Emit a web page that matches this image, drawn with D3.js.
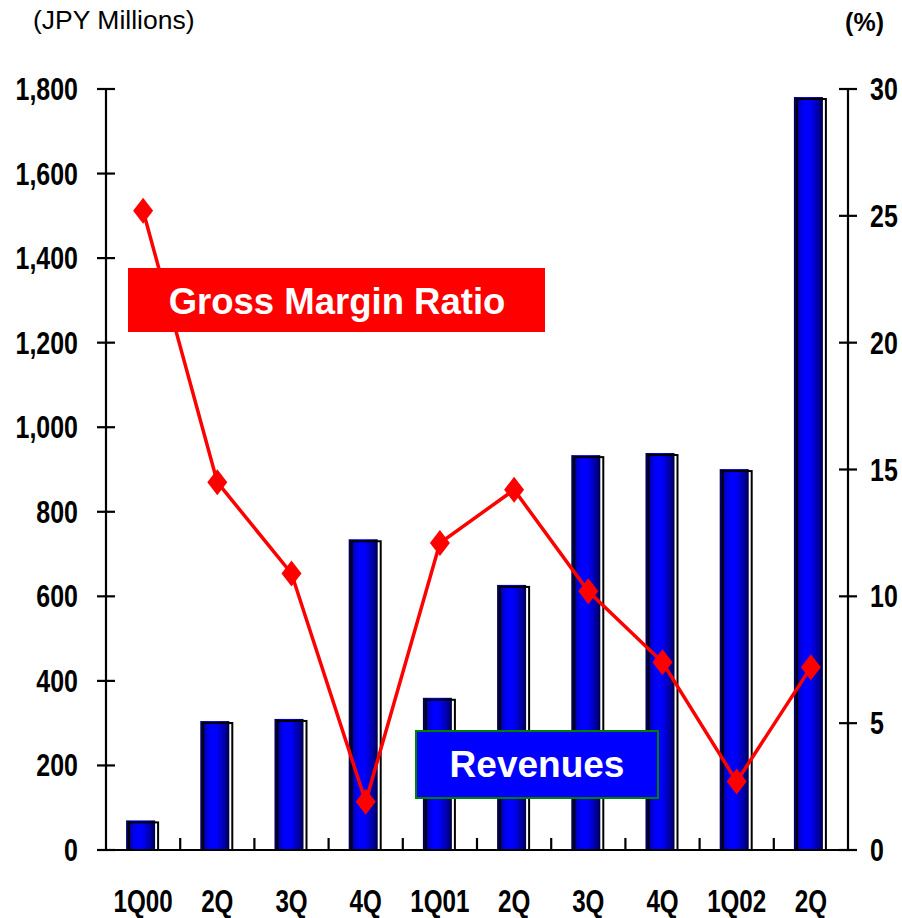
<!DOCTYPE html>
<html><head><meta charset="utf-8">
<script src="https://cdn.jsdelivr.net/npm/d3@7"></script>
<style>body{margin:0;background:#fff}svg{display:block}</style>
</head><body>
<script>
const categories = ["1Q00","2Q","3Q","4Q","1Q01","2Q","3Q","4Q","1Q02","2Q"];
const revenues = [70, 305, 310, 735, 360, 627, 934, 939, 901, 1781];
const grossMargin = [25.2, 14.5, 10.9, 1.9, 12.1, 14.2, 10.2, 7.4, 2.7, 7.2];
const leftTicks = [0,200,400,600,800,1000,1200,1400,1600,1800];
const rightTicks = [0,5,10,15,20,25,30];

const W = 902, H = 918;
const svg = d3.select("body").append("svg").attr("width", W).attr("height", H);
const x0 = 106, x1 = 848, yTop = 89, yBot = 850;

const x = d3.scaleBand().domain(d3.range(categories.length)).range([x0, x1]).padding(0);
const yL = d3.scaleLinear().domain([0, 1800]).range([yBot, yTop]);
const yR = d3.scaleLinear().domain([0, 30]).range([yBot, yTop]);

const defs = svg.append("defs");
const g = defs.append("linearGradient").attr("id","barGrad").attr("x1","0").attr("x2","1").attr("y1","0").attr("y2","0");
[["0%","#000040"],["12%","#0000b0"],["35%","#0000ff"],["55%","#0000ff"],["85%","#0000a0"],["100%","#000040"]]
  .forEach(([o,c]) => g.append("stop").attr("offset",o).attr("stop-color",c));

const font = "'Liberation Sans', Arial, Helvetica, sans-serif";
const cx = i => x(i) + x.bandwidth()/2;
const bw = 29;

// bars
const bars = svg.append("g");
revenues.forEach((v,i) => {
  const left = cx(i) - 17;
  bars.append("rect").attr("x", left).attr("y", yL(v)).attr("width", bw).attr("height", yBot - yL(v))
    .attr("fill","url(#barGrad)");
  bars.append("rect").attr("x", left + 3).attr("y", yL(v) + 2).attr("width", bw).attr("height", yBot - yL(v) - 2)
    .attr("fill","none").attr("stroke","#000").attr("stroke-width",2);
});

// axes
const axG = svg.append("g").attr("stroke","#000").attr("stroke-width",2.2);
axG.append("line").attr("x1",x0).attr("x2",x0).attr("y1",yTop).attr("y2",yBot);
axG.append("line").attr("x1",x1).attr("x2",x1).attr("y1",yTop).attr("y2",yBot);
axG.append("line").attr("x1",x0-9).attr("x2",x1+9).attr("y1",yBot).attr("y2",yBot);
leftTicks.forEach(t => axG.append("line").attr("x1",x0-9).attr("x2",x0+9).attr("y1",yL(t)).attr("y2",yL(t)));
rightTicks.forEach(t => axG.append("line").attr("x1",x1-9).attr("x2",x1+9).attr("y1",yR(t)).attr("y2",yR(t)));
d3.range(1, categories.length).forEach(i => axG.append("line").attr("x1",x(i)).attr("x2",x(i)).attr("y1",yBot-12).attr("y2",yBot));

// tick labels (condensed bold)
const sx = 0.78;
leftTicks.forEach(t => {
  svg.append("text").attr("transform",`translate(78,${yL(t)+11}) scale(${sx},1)`)
    .attr("text-anchor","end").attr("font-family",font).attr("font-weight","bold").attr("font-size",32)
    .text(d3.format(",")(t));
});
rightTicks.forEach(t => {
  svg.append("text").attr("transform",`translate(870,${yR(t)+11}) scale(${sx},1)`)
    .attr("text-anchor","start").attr("font-family",font).attr("font-weight","bold").attr("font-size",32)
    .text(t);
});
categories.forEach((c,i) => {
  svg.append("text").attr("transform",`translate(${cx(i)},912) scale(${sx},1)`)
    .attr("text-anchor","middle").attr("font-family",font).attr("font-weight","bold").attr("font-size",31)
    .text(c);
});

svg.append("text").attr("x",33).attr("y",29).attr("font-family",font).attr("font-size",26.5).text("(JPY Millions)");
svg.append("text").attr("x",884).attr("y",31).attr("text-anchor","end").attr("font-family",font).attr("font-weight","bold").attr("font-size",25).text("(%)");

// line
const line = d3.line().x((d,i) => cx(i)).y(d => yR(d));
svg.append("path").datum(grossMargin).attr("d", line).attr("fill","none").attr("stroke","#ff0000").attr("stroke-width",3.5);
grossMargin.forEach((v,i) => {
  const px = cx(i), py = yR(v);
  svg.append("path").attr("d",`M${px},${py-13}L${px+10},${py}L${px},${py+13}L${px-10},${py}Z`).attr("fill","#ff0000");
});

// label boxes
svg.append("rect").attr("x",128).attr("y",268).attr("width",417).attr("height",64).attr("fill","#ff0000");
svg.append("text").attr("x",337).attr("y",314).attr("text-anchor","middle").attr("font-family",font).attr("font-weight","bold")
  .attr("font-size",36.5).attr("fill","#fff").text("Gross Margin Ratio");
svg.append("rect").attr("x",416).attr("y",731).attr("width",242).attr("height",67).attr("fill","#0000ff").attr("stroke","#008000").attr("stroke-width",2);
svg.append("text").attr("x",537).attr("y",777).attr("text-anchor","middle").attr("font-family",font).attr("font-weight","bold")
  .attr("font-size",37).attr("fill","#fff").text("Revenues");
</script>
</body></html>
